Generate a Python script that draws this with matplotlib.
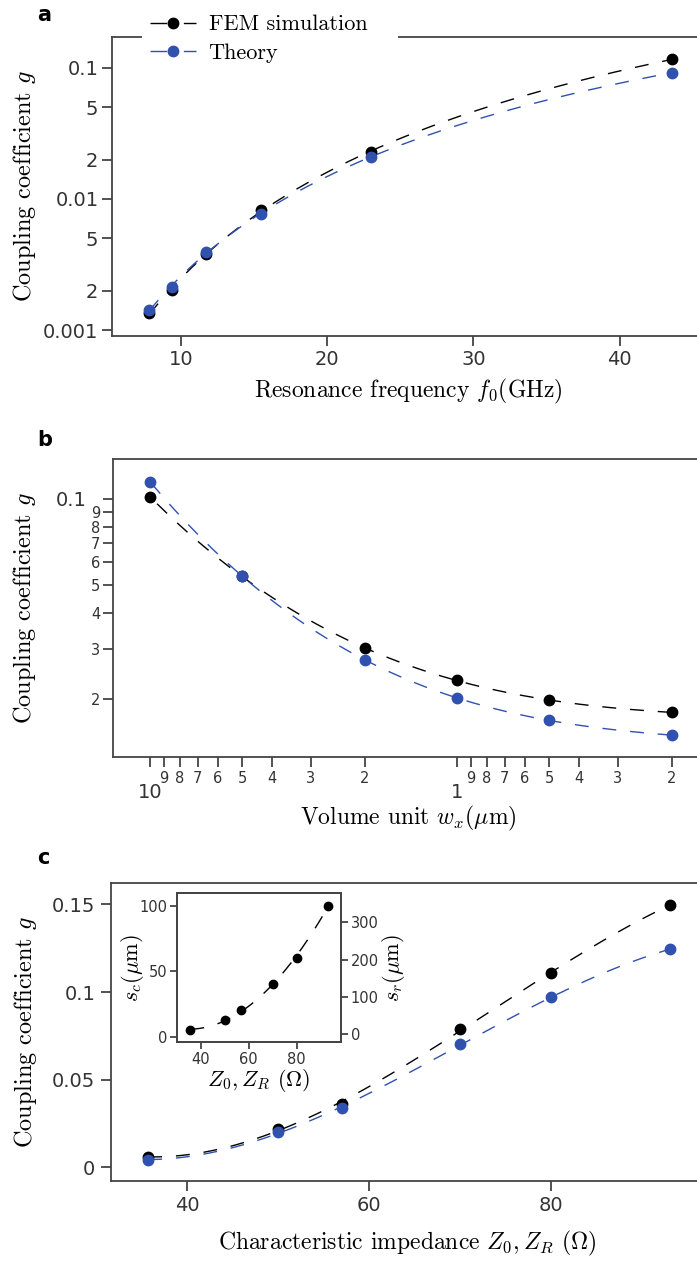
import numpy as np
import matplotlib
matplotlib.use('Agg')
import matplotlib.pyplot as plt
from matplotlib.lines import Line2D
from matplotlib.patches import Rectangle

# ---------------- data ----------------
freq_ghz = [7.85, 9.4, 11.7, 15.5, 23.0, 43.6]
g_fem_a = [0.00134, 0.00202, 0.0038, 0.0082, 0.0229, 0.1165]
g_th_a = [0.00142, 0.00212, 0.00396, 0.00768, 0.0210, 0.092]

w_unit = [10, 5, 2, 1, 0.5, 0.2]
g_fem_b = [0.1016, 0.0537, 0.0301, 0.0233, 0.0199, 0.0180]
g_th_b = [0.1148, 0.0537, 0.0275, 0.0202, 0.0169, 0.0150]

imped = [35.7, 50, 57, 70, 80, 93]
g_fem_c = [0.0059, 0.0222, 0.0361, 0.0789, 0.111, 0.1496]
g_th_c = [0.0044, 0.0203, 0.0337, 0.0703, 0.097, 0.1244]

inset_z = [35.7, 50, 57, 70, 80, 93]
s_c_um = [5, 13, 20, 40, 60, 100]

a_yticks = [0.001, 0.01, 0.1]
a_yticklabels = ['0.001', '0.01', '0.1']
a_yminor = [0.002, 0.005, 0.02, 0.05]
a_yminorlabels = ['2', '5', '2', '5']
a_xticks = [10, 20, 30, 40]

b_xmajor = [10, 1]
b_xmajorlabels = ['10', '1']
b_xminor = [9, 8, 7, 6, 5, 4, 3, 2, 0.9, 0.8, 0.7, 0.6, 0.5, 0.4, 0.3, 0.2]
b_xminorlabels = ['9', '8', '7', '6', '5', '4', '3', '2', '9', '8', '7', '6', '5', '4', '3', '2']
b_ymajor = [0.1]
b_ymajorlabels = ['0.1']
b_yminor = [0.09, 0.08, 0.07, 0.06, 0.05, 0.04, 0.03, 0.02]
b_yminorlabels = ['9', '8', '7', '6', '5', '4', '3', '2']

c_xticks = [40, 60, 80]
c_yticks = [0, 0.05, 0.1, 0.15]
c_yticklabels = ['0', '0.05', '0.1', '0.15']

in_xticks = [40, 60, 80]
in_yticks = [0, 50, 100]
in_y2ticks = [0, 100, 200, 300]

# ---------------- style ----------------
plt.rcParams['mathtext.fontset'] = 'cm'
plt.rcParams['axes.formatter.use_mathtext'] = True
BLACK = '#000000'
BLUE = '#3151ae'
SPINE = '#444444'
TICKC = '#333333'
SERIF = 'cmr10'
LBL = 17
DASH = (10, 10)
MS = 7.5
LW = 1.0

fig = plt.figure(figsize=(6.97, 12.65), dpi=100)
W, H = 697.0, 1265.0


def axes_px(left, top, right, bottom):
    return fig.add_axes([left / W, 1 - bottom / H, (right - left) / W, (bottom - top) / H])


def style_axes(ax, labelsize=14):
    for s in ax.spines.values():
        s.set_color(SPINE)
        s.set_linewidth(1.3)
    ax.tick_params(which='both', direction='out', length=7, width=1.3,
                   color=SPINE, labelcolor=TICKC, labelsize=labelsize)


def fit_curve(x, y, deg, logx=False, logy=False, n=200):
    x = np.asarray(x, float)
    y = np.asarray(y, float)
    xx = np.log10(x) if logx else x
    yy = np.log10(y) if logy else y
    p = np.polyfit(xx, yy, deg)
    xs = np.linspace(xx.min(), xx.max(), n)
    ys = np.polyval(p, xs)
    return (10 ** xs if logx else xs), (10 ** ys if logy else ys)


def place_ylabel(ax, left_px, width_px, right_edge_px=38):
    ax.yaxis.set_label_coords((right_edge_px - left_px) / width_px, 0.5)


# ---------------- panel a ----------------
axa = axes_px(112.3, 36.7, 704, 335.7)
axa.set_yscale('log')
for xv, yv, col in [(freq_ghz, g_fem_a, BLACK), (freq_ghz, g_th_a, BLUE)]:
    fx, fy = fit_curve(xv, yv, 3, logx=True, logy=True)
    axa.plot(fx, fy, color=col, lw=LW, dashes=DASH)
    axa.plot(xv, yv, 'o', color=col, ms=MS, zorder=3)
axa.set_xlim(5.32, 45.77)
axa.set_ylim(0.000905, 0.173)
axa.set_yticks(a_yticks, a_yticklabels)
axa.set_yticks(a_yminor, a_yminorlabels, minor=True)
axa.set_xticks(a_xticks, [str(t) for t in a_xticks])
style_axes(axa, 14)
axa.tick_params(which='both', pad=3)
axa.set_ylabel('Coupling coefficient $g$', fontfamily=SERIF, fontsize=17.5)
place_ylabel(axa, 112.3, 591.7)
axa.set_xlabel('Resonance frequency $f_0$(GHz)', fontfamily=SERIF, fontsize=LBL, labelpad=6)

handles = [Line2D([], [], color=BLACK, lw=LW, dashes=(12, 12), marker='o', ms=MS),
           Line2D([], [], color=BLUE, lw=LW, dashes=(12, 12), marker='o', ms=MS)]
leg = axa.legend(handles, ['FEM simulation', 'Theory'], loc='upper left',
                 bbox_to_anchor=(142 / W, 1 - 7 / H), bbox_transform=fig.transFigure,
                 prop={'family': SERIF, 'size': 16}, frameon=True, fancybox=False,
                 edgecolor='none', facecolor='white', framealpha=1,
                 borderpad=0.35, borderaxespad=0, handlelength=2.1,
                 handletextpad=0.55, labelspacing=0.42, numpoints=1)
# white band where the legend box interrupts the top spine
axa.add_patch(Rectangle((142 / W, 1 - 44 / H), 256 / W, 14 / H, transform=fig.transFigure,
                        facecolor='white', edgecolor='none', clip_on=False, zorder=4))

# ---------------- panel b ----------------
axb = axes_px(113, 459, 704, 757)
axb.set_xscale('log')
axb.set_yscale('log')
for xv, yv, col in [(w_unit, g_fem_b, BLACK), (w_unit, g_th_b, BLUE)]:
    fx, fy = fit_curve(xv, yv, 3, logx=True, logy=True)
    axb.plot(fx, fy, color=col, lw=LW, dashes=DASH)
    axb.plot(xv, yv, 'o', color=col, ms=MS, zorder=3)
axb.set_xlim(13.2, 0.1568)
axb.set_ylim(0.01259, 0.1377)
axb.set_xticks(b_xmajor, b_xmajorlabels)
axb.set_xticks(b_xminor, b_xminorlabels, minor=True)
axb.set_yticks(b_ymajor, b_ymajorlabels)
axb.set_yticks(b_yminor, b_yminorlabels, minor=True)
style_axes(axb, 13)
axb.tick_params(axis='x', which='major', pad=12, labelsize=14)
axb.tick_params(axis='x', which='minor', pad=3, labelsize=10.5)
axb.tick_params(axis='y', which='major', pad=12, labelsize=14)
axb.tick_params(axis='y', which='minor', pad=2, labelsize=10.5)
axb.set_ylabel('Coupling coefficient $g$', fontfamily=SERIF, fontsize=17.5)
place_ylabel(axb, 113, 591)
axb.set_xlabel(r'Volume unit $w_x(\mu$m$)$', fontfamily=SERIF, fontsize=LBL, labelpad=1)

# ---------------- panel c ----------------
axc = axes_px(110.7, 883, 704, 1181)
for xv, yv, col in [(imped, g_fem_c, BLACK), (imped, g_th_c, BLUE)]:
    fx, fy = fit_curve(xv, yv, 3)
    axc.plot(fx, fy, color=col, lw=LW, dashes=DASH)
    axc.plot(xv, yv, 'o', color=col, ms=MS, zorder=3)
axc.set_xlim(31.58, 96.78)
axc.set_ylim(-0.0077, 0.1622)
axc.set_xticks(c_xticks, [str(t) for t in c_xticks])
axc.set_yticks(c_yticks, c_yticklabels)
style_axes(axc, 14)
axc.tick_params(which='both', pad=4)
axc.set_ylabel('Coupling coefficient $g$', fontfamily=SERIF, fontsize=17.5)
place_ylabel(axc, 110.7, 593.3, 39)
axc.set_xlabel(r'Characteristic impedance $Z_0, Z_R$ $(\Omega)$', fontfamily=SERIF,
               fontsize=LBL, labelpad=10)

# inset
axi = axes_px(177.3, 893.3, 341, 1042.3)
fx, fy = fit_curve(inset_z, s_c_um, 2)
axi.plot(fx, fy, color=BLACK, lw=LW, dashes=DASH)
axi.plot(inset_z, s_c_um, 'o', color=BLACK, ms=6)
axi.set_xlim(30.25, 98.5)
axi.set_ylim(-4.3, 109.5)
axi.set_xticks(in_xticks, [str(t) for t in in_xticks])
axi.set_yticks(in_yticks, [str(t) for t in in_yticks])
style_axes(axi, 10.5)
axi.tick_params(which='both', length=5, pad=2)
axi.set_ylabel(r'$s_c(\mu$m$)$', fontfamily=SERIF, fontsize=16)
axi.yaxis.set_label_coords((146 - 177.3) / 163.7, 0.5)
axi.set_xlabel(r'$Z_0, Z_R$ $(\Omega)$', fontfamily=SERIF, fontsize=16, labelpad=0)
axi2 = axi.twinx()
axi2.set_ylim(-22.3, 378)
axi2.set_yticks(in_y2ticks, [str(t) for t in in_y2ticks])
style_axes(axi2, 10.5)
axi2.tick_params(which='both', length=5, pad=2)
axi2.set_ylabel(r'$s_r(\mu$m$)$', fontfamily=SERIF, fontsize=16, labelpad=1)

# panel letters
for letter, (px, py) in zip(['a', 'b', 'c'], [(37, 15), (37, 440), (37, 858)]):
    fig.text(px / W, 1 - py / H, letter, fontsize=15, fontweight='bold',
             fontfamily='DejaVu Sans', va='center', ha='left')

fig.savefig('out.png', dpi=100)
